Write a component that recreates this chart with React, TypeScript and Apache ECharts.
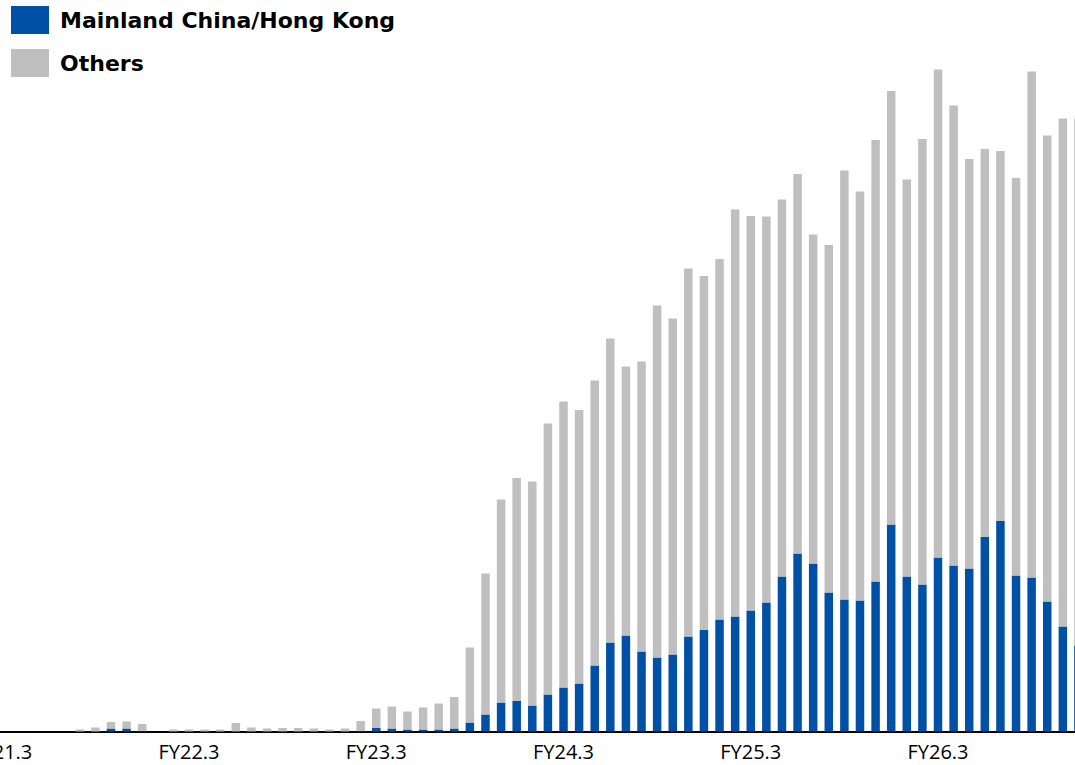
import React, { useEffect, useRef } from "react";
import * as echarts from "echarts";

const categories = [
  "FY21.3","FY21.4","FY21.5","FY21.6","FY21.7","FY21.8","FY21.9","FY21.10","FY21.11","FY21.12",
  "FY22.1","FY22.2","FY22.3","FY22.4","FY22.5","FY22.6","FY22.7","FY22.8","FY22.9","FY22.10","FY22.11","FY22.12",
  "FY23.1","FY23.2","FY23.3","FY23.4","FY23.5","FY23.6","FY23.7","FY23.8","FY23.9","FY23.10","FY23.11","FY23.12",
  "FY24.1","FY24.2","FY24.3","FY24.4","FY24.5","FY24.6","FY24.7","FY24.8","FY24.9","FY24.10","FY24.11","FY24.12",
  "FY25.1","FY25.2","FY25.3","FY25.4","FY25.5","FY25.6","FY25.7","FY25.8","FY25.9","FY25.10","FY25.11","FY25.12",
  "FY26.1","FY26.2","FY26.3","FY26.4","FY26.5","FY26.6","FY26.7","FY26.8","FY26.9","FY26.10","FY26.11","FY26.12",
];

const mainlandChinaHongKong = [
  0, 0, 0, 0, 0, 0, 0, 3, 3, 0.5,
  0, 0, 0, 0, 0, 0, 0, 0, 0, 0, 0, 0,
  0, 0.5, 3.5, 3, 2, 2, 2, 3, 9, 17, 29, 30.5,
  26, 37, 44, 48, 66, 89, 96, 80, 74, 77, 95, 101.5,
  112, 115, 121, 129, 155, 178, 168, 139, 132, 131, 150, 207,
  155, 147, 174, 166, 163, 194.5, 210.5, 156, 154, 130, 105, 86,
];

const others = [
  0, 0, 0, 0, 0, 2, 4, 6.5, 7, 7,
  0, 2, 2, 2, 2, 8.5, 4, 3, 3.5, 3.5, 3, 2,
  3, 10, 19.5, 22, 18, 22, 26, 31.5, 75, 141, 203, 223,
  224, 271, 286, 273.5, 285, 304, 269, 290, 352, 336, 368, 354,
  360.5, 407, 394.5, 386, 377, 379.5, 329, 347.5, 429, 409, 441.5, 433.5,
  397, 445.5, 488, 460, 409.5, 388, 370, 397.5, 506, 466, 508, 527,
];

const FONT = "'Open Sans', 'Noto Sans', sans-serif";
const LEGEND_FONT = "'DejaVu Sans', 'Open Sans', sans-serif";

export default function App() {
  const ref = useRef<HTMLDivElement>(null);

  useEffect(() => {
    if (!ref.current) return;
    const chart = echarts.init(ref.current, undefined, { renderer: "svg" });
    chart.setOption({
      animation: false,
      backgroundColor: "#ffffff",
      textStyle: { fontFamily: FONT },
      legend: {
        orient: "vertical",
        left: 51,
        top: 6,
        padding: 0,
        itemWidth: 38,
        itemHeight: 28,
        itemGap: 15,
        icon: "rect",
        selectedMode: false,
        textStyle: {
          fontFamily: LEGEND_FONT,
          fontSize: 22,
          fontWeight: "bold",
          color: "#000000",
          padding: [4, 0, 0, 6],
        },
        data: ["Mainland China/Hong Kong", "Others"],
      },
      grid: { left: 33.95, right: 28.75, top: 31.5, bottom: 33.5 },
      xAxis: {
        type: "category",
        data: categories,
        boundaryGap: true,
        axisLine: { show: true, lineStyle: { color: "#000000", width: 2 } },
        axisTick: { show: false },
        axisLabel: {
          interval: 11,
          margin: 10,
          fontFamily: FONT,
          fontSize: 20,
          color: "#000000",
        },
      },
      yAxis: {
        type: "value",
        min: 0,
        max: 700,
        show: false,
        splitLine: { show: false },
      },
      series: [
        {
          name: "Mainland China/Hong Kong",
          type: "bar",
          stack: "total",
          barWidth: 8.5,
          itemStyle: { color: "#0050A5" },
          data: mainlandChinaHongKong,
        },
        {
          name: "Others",
          type: "bar",
          stack: "total",
          barWidth: 8.5,
          itemStyle: { color: "#BFBFBF" },
          data: others,
        },
      ],
    });
    return () => chart.dispose();
  }, []);

  return (
    <div
      style={{
        position: "fixed",
        left: 0,
        top: 0,
        width: 1075,
        height: 765,
        overflow: "hidden",
        background: "#ffffff",
      }}
    >
      <div
        ref={ref}
        style={{ position: "absolute", left: -40, top: 0, width: 1155, height: 765 }}
      />
    </div>
  );
}
